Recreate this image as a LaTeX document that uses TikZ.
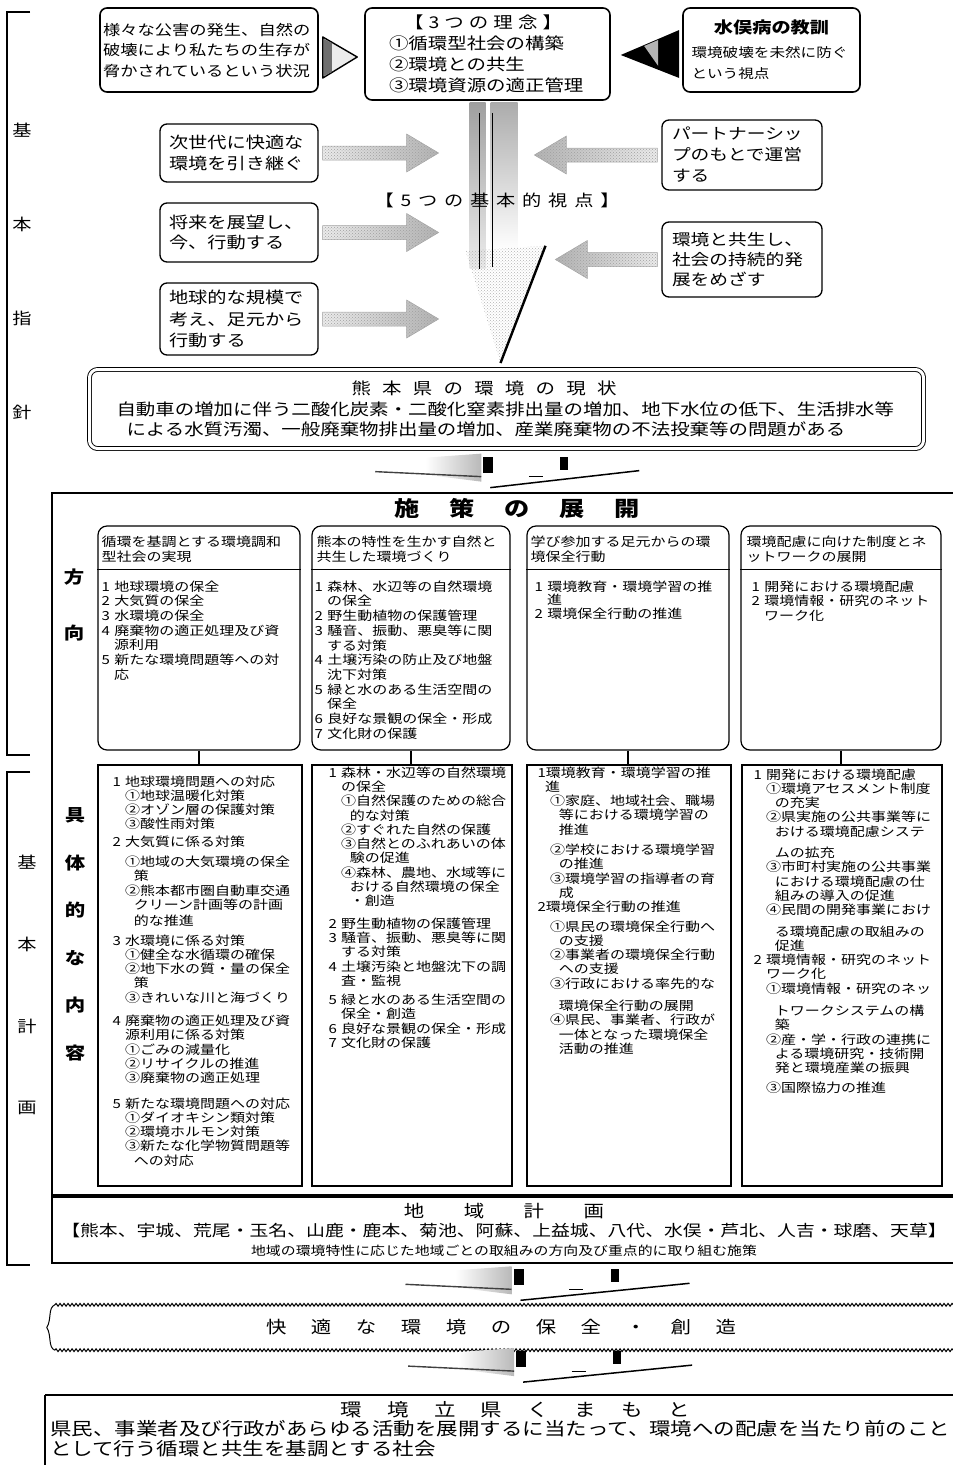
\documentclass[tikz,border=0pt]{standalone}
\usepackage{fontspec}
\setmainfont{Noto Sans CJK JP}[FakeStretch=1.2]
\usepackage{tikz}
\usetikzlibrary{calc, positioning, patterns, decorations.pathmorphing}

\definecolor{ScanGrey}{RGB}{110,110,110}
\definecolor{HatchGrey}{RGB}{180,180,180}
\definecolor{PaleGrey}{RGB}{236,236,236}

\setlength{\lineskiplimit}{-100pt}
\newcommand{\fs}[2]{\fontsize{#1}{#2}\selectfont}
\newcommand{\nm}[1]{#1\hspace{0.35em}}
\newcommand{\indA}{\hspace*{1em}}
\newcommand{\indB}{\hspace*{1.7em}}

% grey arrow from a box side towards the centre
\newcommand{\hatcharrow}[4]{%
  \shadedraw[#4, draw=gray!70, line width=0.5pt,
      postaction={pattern=crosshatch dots, pattern color=gray!75}]
    ($(#1)+({(#3)*4},-7)$) -- ++({(#3)*(#2-32)},0) -- ++(0,-12)
    -- ++({(#3)*32},19) -- ++({-(#3)*32},19) -- ++(0,-12)
    -- ++({-(#3)*(#2-32)},0) -- cycle;}

% flat arrow between two stages
\newcommand{\flatarrow}[2]{%
  \shade[left color=white, right color=gray!55] ($#1+(-75,-12)$) -- ($#1+(-19,-16)$) -- ($#1+(-19,12)$) -- ($#1+(-75,5)$) -- cycle;
  \draw[gray!50!black, line width=1.4pt] ($#1+(-125,2)$) -- ($#1+(-19,7)$);
  \fill ($#1+(-17,-13)$) rectangle ($#1+(-7,3)$);
  \fill ($#1+({#2-17},-13)$) rectangle ($#1+({#2-9},0)$);
  \draw[line width=1pt] ($#1+({#2/2-10},7)$) -- ($#1+({#2/2+4},7)$);
  \draw[line width=1.5pt] ($#1+(-10,18)$) -- ($#1+({#2+62},1)$);}

\begin{document}
\begin{tikzpicture}[x=1pt, y=-1pt,
    every node/.style={inner sep=0pt, execute at begin node={\lineskiplimit=-100pt}},
    topbox/.style={draw, line width=1.6pt, rounded corners=7pt, align=left},
    midbox/.style={draw, line width=1.3pt, rounded corners=7pt, align=left},
    dirbox/.style={draw, line width=1.2pt, rounded corners=9pt, minimum width=#1, minimum height=224pt},
    detbox/.style={draw, line width=1.4pt, minimum width=#1, minimum height=421pt},
    listtext/.style={anchor=north west, align=left, font=\fs{12.5}{14.3}},
    sidechar/.style={font=\fs{16}{16}},
    dirchar/.style={font=\fs{17}{17}\bfseries},
    rightfade/.style={left color=PaleGrey, right color=gray!60},
    leftfade/.style={left color=gray!60, right color=PaleGrey},
    wavy/.style={decorate, decoration={snake, amplitude=1.4pt, segment length=4pt}, line width=1pt}]

    \useasboundingbox (0,0) rectangle (953,1465);

    % Side brackets
    \draw[line width=1.1pt] (30,12) -- (7,12) -- (7,755) -- (30,755);
    \draw[line width=1.1pt] (30,772) -- (7,772) -- (7,1265) -- (30,1265);
    \foreach \ch [count=\i] in {基,本,指,針}
      \node[sidechar] (gdlab\i) at (22,{130+94.3*(\i-1)}) {\ch};
    \foreach \ch [count=\i] in {基,本,計,画}
      \node[sidechar] (plnlab\i) at (27,{862+82*(\i-1)}) {\ch};

    % Top row
    \node[topbox, minimum width=218pt, minimum height=84pt, text width=212pt, font=\fs{14.4}{20.5}] (crisis) at (209,50)
      {様々な公害の発生、自然の\\破壊により私たちの生存が\\脅かされているという状況};
    \node[topbox, minimum width=245pt, minimum height=92pt, text width=197pt, font=\fs{16.2}{21}] (ri) at (487.5,54)
      {\hspace*{15pt}\makebox[158pt]{【\hfill 3\hfill つ\hfill の\hfill 理\hfill 念\hfill 】}\\①循環型社会の構築\\②環境との共生\\③環境資源の適正管理};
    \node[topbox, minimum width=177pt, minimum height=84pt, text width=160pt, font=\fs{13}{21}] (lesson) at (771.5,50)
      {\makebox[160pt]{\fs{16}{21}\bfseries 水俣病の教訓}\\[3pt]環境破壊を未然に防ぐ\\という視点};

    \filldraw[fill=PaleGrey, line width=1.4pt, line join=round] ($(crisis.east)+(4,-13)$) -- ($(ri.west)+(-7,3)$) -- ($(crisis.east)+(4,28)$) -- cycle;
    \fill[ScanGrey] ($(crisis.east)+(5,-11)$) -- ($(crisis.east)+(13,-7)$) -- ($(crisis.east)+(13,22)$) -- ($(crisis.east)+(5,26)$) -- cycle;
    \fill ($(lesson.west)+(-3,-20)$) -- ($(ri.east)+(10,1)$) -- ($(lesson.west)+(-3,28)$) -- cycle;
    \fill[HatchGrey] ($(lesson.west)+(-38,-4)$) -- ($(lesson.west)+(-24,-10)$) -- ($(lesson.west)+(-24,16)$) -- cycle;

    % Five viewpoints
    \node[midbox, minimum width=158pt, minimum height=58pt, text width=140pt, font=\fs{16}{20.5}] (v1) at (239,153)
      {次世代に快適な\\環境を引き継ぐ};
    \node[midbox, minimum width=158pt, minimum height=59pt, text width=140pt, font=\fs{16}{20.5}] (v2) at (239,232.5)
      {将来を展望し、\\今、行動する};
    \node[midbox, minimum width=158pt, minimum height=72pt, text width=140pt, font=\fs{16}{21.5}] (v3) at (239,319)
      {地球的な規模で\\考え、足元から\\行動する};
    \node[midbox, minimum width=160pt, minimum height=70pt, text width=140pt, font=\fs{15.6}{21}] (v4) at (742,155)
      {パートナーシッ\\プのもとで運営\\する};
    \node[midbox, minimum width=160pt, minimum height=75pt, text width=140pt, font=\fs{15.6}{20}] (v5) at (742,259.5)
      {環境と共生し、\\社会の持続的発\\展をめざす};

    \hatcharrow{v1.east}{116}{1}{rightfade}
    \hatcharrow{v2.east}{116}{1}{rightfade}
    \hatcharrow{v3.east}{116}{1}{rightfade}
    \hatcharrow{v4.west}{123}{-1}{leftfade}
    \hatcharrow{v5.west}{102}{-1}{leftfade}

    % Present state
    \node[draw, double, double distance=3pt, line width=0.9pt, rounded corners=8pt, minimum width=834pt, minimum height=79pt, text width=780pt, align=left, font=\fs{16.2}{20.5}] (state) at (506.5,409)
      {\hspace*{235pt}\makebox[265pt]{熊\hfill 本\hfill 県\hfill の\hfill 環\hfill 境\hfill の\hfill 現\hfill 状}\\自動車の増加に伴う二酸化炭素・二酸化窒素排出量の増加、地下水位の低下、生活排水等\\\hspace*{10pt}による水質汚濁、一般廃棄物排出量の増加、産業廃棄物の不法投棄等の問題がある};

    % Big arrow
    \coordinate (shaft) at ($(ri.south)+(8,0)$);
    \coordinate (bigtip) at ($(state.north)+(-6,-6)$);
    \shade[top color=gray!75, bottom color=PaleGrey] ($(shaft)+(-26,2)$) rectangle ($(shaft)+(-10,168)$);
    \shade[top color=gray!65, bottom color=white] ($(shaft)+(-5,2)$) rectangle ($(shaft)+(22,150)$);
    \path[pattern=crosshatch dots, pattern color=gray!60] ($(shaft)+(-30,150)$) -- ($(shaft)+(50,145)$) -- (bigtip) -- cycle;
    \draw[line width=1.6pt] ($(shaft)+(-16,12)$) -- ($(shaft)+(-16,168)$);
    \draw[line width=1.2pt] ($(shaft)+(-3,12)$) -- ($(shaft)+(-3,166)$);
    \draw[line width=2.4pt] ($(shaft)+(50,145)$) -- (bigtip);
    \node[font=\fs{16}{16}] (views) at (497,200)
      {\makebox[245pt]{【\hfill 5\hfill つ\hfill の\hfill 基\hfill 本\hfill 的\hfill 視\hfill 点\hfill 】}};

    % Measures
    \node[draw, line width=1.4pt, minimum width=904pt, minimum height=702pt] (plan) at (504,844) {};
    \node[font=\fs{21}{21}\bfseries] (plantitle) at (517,508)
      {\makebox[245pt]{施\hfill 策\hfill の\hfill 展\hfill 開}};
    \coordinate (link1) at ($(state.south)!0.5!(plan.north)+(-5,-1)$);
    \flatarrow{(link1)}{77}

    \node[dirchar] (dirA) at (74,577) {方};
    \node[dirchar] (dirB) at (74,633) {向};
    \foreach \ch [count=\i] in {具,体,的,な,内,容}
      \node[dirchar] (detlab\i) at (75,{815+47.6*(\i-1)}) {\ch};

    % Directions
    \node[dirbox=202pt] (dir1) at (199,638) {};
    \node[dirbox=198pt] (dir2) at (411,638) {};
    \node[dirbox=202pt] (dir3) at (628,638) {};
    \node[dirbox=200pt] (dir4) at (841,638) {};
    \foreach \d in {dir1,dir2,dir3,dir4}
      \draw[line width=1.1pt] ($(\d.north west)+(0,44)$) -- ($(\d.north east)+(0,44)$);

    \node[listtext, font=\fs{12.5}{15}] (dir1h) at ($(dir1.north west)+(4,10)$) {循環を基調とする環境調和\\型社会の実現};
    \node[listtext, font=\fs{12.5}{15}] (dir2h) at ($(dir2.north west)+(5,10)$) {熊本の特性を生かす自然と\\共生した環境づくり};
    \node[listtext, font=\fs{12.5}{15}] (dir3h) at ($(dir3.north west)+(4,10)$) {学び参加する足元からの環\\境保全行動};
    \node[listtext, font=\fs{12.5}{15}] (dir4h) at ($(dir4.north west)+(6,10)$) {環境配慮に向けた制度とネ\\ットワークの展開};

    \node[listtext, font=\fs{12.5}{14.7}] (dir1b) at ($(dir1.north west)+(4,55)$)
      {\nm{1}地球環境の保全\\\nm{2}大気質の保全\\\nm{3}水環境の保全\\\nm{4}廃棄物の適正処理及び資\\\indA 源利用\\\nm{5}新たな環境問題等への対\\\indA 応};
    \node[listtext, font=\fs{12.5}{14.7}] (dir2b) at ($(dir2.north west)+(3,55)$)
      {\nm{1}森林、水辺等の自然環境\\\indA の保全\\\nm{2}野生動植物の保護管理\\\nm{3}騒音、振動、悪臭等に関\\\indA する対策\\\nm{4}土壌汚染の防止及び地盤\\\indA 沈下対策\\\nm{5}緑と水のある生活空間の\\\indA 保全\\\nm{6}良好な景観の保全・形成\\\nm{7}文化財の保護};
    \node[listtext, font=\fs{12.5}{13.5}] (dir3b) at ($(dir3.north west)+(8,55)$)
      {\nm{1}環境教育・環境学習の推\\\indA 進\\\nm{2}環境保全行動の推進};
    \node[listtext, font=\fs{12.5}{14.7}] (dir4b) at ($(dir4.north west)+(11,55)$)
      {\nm{1}開発における環境配慮\\\nm{2}環境情報・研究のネット\\\indA ワーク化};

    % Concrete contents
    \node[detbox=204pt] (det1) at (200,975.5) {};
    \node[detbox=200pt] (det2) at (412,975.5) {};
    \node[detbox=204pt] (det3) at (629,975.5) {};
    \node[detbox=200pt] (det4) at (842,975.5) {};
    \foreach \c in {1,...,4}
      \draw[line width=1.1pt] (dir\c.south) -- (dir\c.south |- det\c.north);

    \node[listtext] (det1b) at ($(det1.north west)+(15,11)$)
      {\nm{1}地球環境問題への対応\\
       \indA ①地球温暖化対策\\
       \indA ②オゾン層の保護対策\\
       \indA ③酸性雨対策\\[3pt]
       \nm{2}大気質に係る対策\\[6pt]
       \indA ①地域の大気環境の保全\\
       \indB 策\\
       \indA ②熊本都市圏自動車交通\\
       \indB クリーン計画等の計画\\[2pt]
       \indB 的な推進\\[5pt]
       \nm{3}水環境に係る対策\\
       \indA ①健全な水循環の確保\\
       \indA ②地下水の質・量の保全\\
       \indB 策\\
       \indA ③きれいな川と海づくり\\[9pt]
       \nm{4}廃棄物の適正処理及び資\\
       \indA 源利用に係る対策\\
       \indA ①ごみの減量化\\
       \indA ②リサイクルの推進\\
       \indA ③廃棄物の適正処理\\[11pt]
       \nm{5}新たな環境問題への対応\\
       \indA ①ダイオキシン類対策\\
       \indA ②環境ホルモン対策\\
       \indA ③新たな化学物質問題等\\
       \indB への対応};
    \node[listtext] (det2b) at ($(det2.north west)+(17,2)$)
      {\nm{1}森林・水辺等の自然環境\\
       \indA の保全\\
       \indA ①自然保護のための総合\\
       \indB 的な対策\\
       \indA ②すぐれた自然の保護\\
       \indA ③自然とのふれあいの体\\
       \indB 験の促進\\
       \indA ④森林、農地、水域等に\\
       \indB おける自然環境の保全\\
       \indB ・創造\\[8pt]
       \nm{2}野生動植物の保護管理\\
       \nm{3}騒音、振動、悪臭等に関\\
       \indA する対策\\
       \nm{4}土壌汚染と地盤沈下の調\\
       \indA 査・監視\\[5pt]
       \nm{5}緑と水のある生活空間の\\
       \indA 保全・創造\\
       \nm{6}良好な景観の保全・形成\\
       \nm{7}文化財の保護};
    \node[listtext] (det3b) at ($(det3.north west)+(11,2)$)
      {1環境教育・環境学習の推\\
       \hspace*{0.6em}進\\
       \indA ①家庭、地域社会、職場\\
       \indB 等における環境学習の\\
       \indB 推進\\[6pt]
       \indA ②学校における環境学習\\
       \indB の推進\\
       \indA ③環境学習の指導者の育\\
       \indB 成\\
       2環境保全行動の推進\\[5pt]
       \indA ①県民の環境保全行動へ\\
       \indB の支援\\
       \indA ②事業者の環境保全行動\\
       \indB への支援\\
       \indA ③行政における率先的な\\[8pt]
       \indB 環境保全行動の展開\\
       \indA ④県民、事業者、行政が\\
       \indB 一体となった環境保全\\
       \indB 活動の推進};
    \node[listtext] (det4b) at ($(det4.north west)+(12,4)$)
      {\nm{1}開発における環境配慮\\
       \indA ①環境アセスメント制度\\
       \indB の充実\\
       \indA ②県実施の公共事業等に\\
       \indB おける環境配慮システ\\[7pt]
       \indB ムの拡充\\
       \indA ③市町村実施の公共事業\\
       \indB における環境配慮の仕\\
       \indB 組みの導入の促進\\
       \indA ④民間の開発事業におけ\\[7pt]
       \indB る環境配慮の取組みの\\
       \indB 促進\\
       \nm{2}環境情報・研究のネット\\
       \indA ワーク化\\
       \indA ①環境情報・研究のネッ\\[8pt]
       \indB トワークシステムの構\\
       \indB 築\\
       \indA ②産・学・行政の連携に\\
       \indB よる環境研究・技術開\\
       \indB 発と環境産業の振興\\[5pt]
       \indA ③国際協力の推進};

    % Regional plans
    \node[draw, line width=1.6pt, minimum width=904pt, minimum height=66pt, text width=890pt, align=center, font=\fs{15.7}{19}] (region) at (504,1230)
      {{\fs{17}{19}\makebox[200pt]{地\hfill 域\hfill 計\hfill 画}}\\【熊本、宇城、荒尾・玉名、山鹿・鹿本、菊池、阿蘇、上益城、八代、水俣・芦北、人吉・球磨、天草】\\{\fs{12.4}{19}地域の環境特性に応じた地域ごとの取組みの方向及び重点的に取り組む施策}};

    % Comfortable environment
    \node[minimum width=908pt, minimum height=45pt, font=\fs{17}{17}] (comfort) at (501,1327.5)
      {\makebox[470pt]{快\hfill 適\hfill な\hfill 環\hfill 境\hfill の\hfill 保\hfill 全\hfill ・\hfill 創\hfill 造}};
    \draw[wavy] ($(comfort.north west)+(8,0)$) -- (comfort.north east);
    \draw[wavy] ($(comfort.south west)+(8,0)$) -- (comfort.south east);
    \draw[line width=1pt] ($(comfort.north west)+(8,0)$) .. controls ($(comfort.north west)+(1,3)$) and ($(comfort.west)+(5,-8)$) .. (comfort.west)
      .. controls ($(comfort.west)+(5,8)$) and ($(comfort.south west)+(1,-3)$) .. ($(comfort.south west)+(8,0)$);
    \coordinate (link2) at ($(region.south)!0.5!(comfort.north)+(28,-2)$);
    \flatarrow{(link2)}{97}

    % Goal
    \node[anchor=north west, text width=910pt, align=left, font=\fs{17.9}{19.5}] (goal) at (50,1401)
      {\hspace*{290pt}\makebox[350pt]{環\hfill 境\hfill 立\hfill 県\hfill く\hfill ま\hfill も\hfill と}\\県民、事業者及び行政があらゆる活動を展開するに当たって、環境への配慮を当たり前のこと\\として行う循環と共生を基調とする社会};
    \draw[line width=2.4pt] ($(goal.north west)+(-5,-6)$) -- ++(912,0);
    \draw[line width=1.2pt] ($(goal.north west)+(-5,-6)$) -- ++(0,80);
    \coordinate (link3) at ($(comfort.south)!0.5!(goal.north)+(30,-11.5)$);
    \flatarrow{(link3)}{97}
\end{tikzpicture}
\end{document}
